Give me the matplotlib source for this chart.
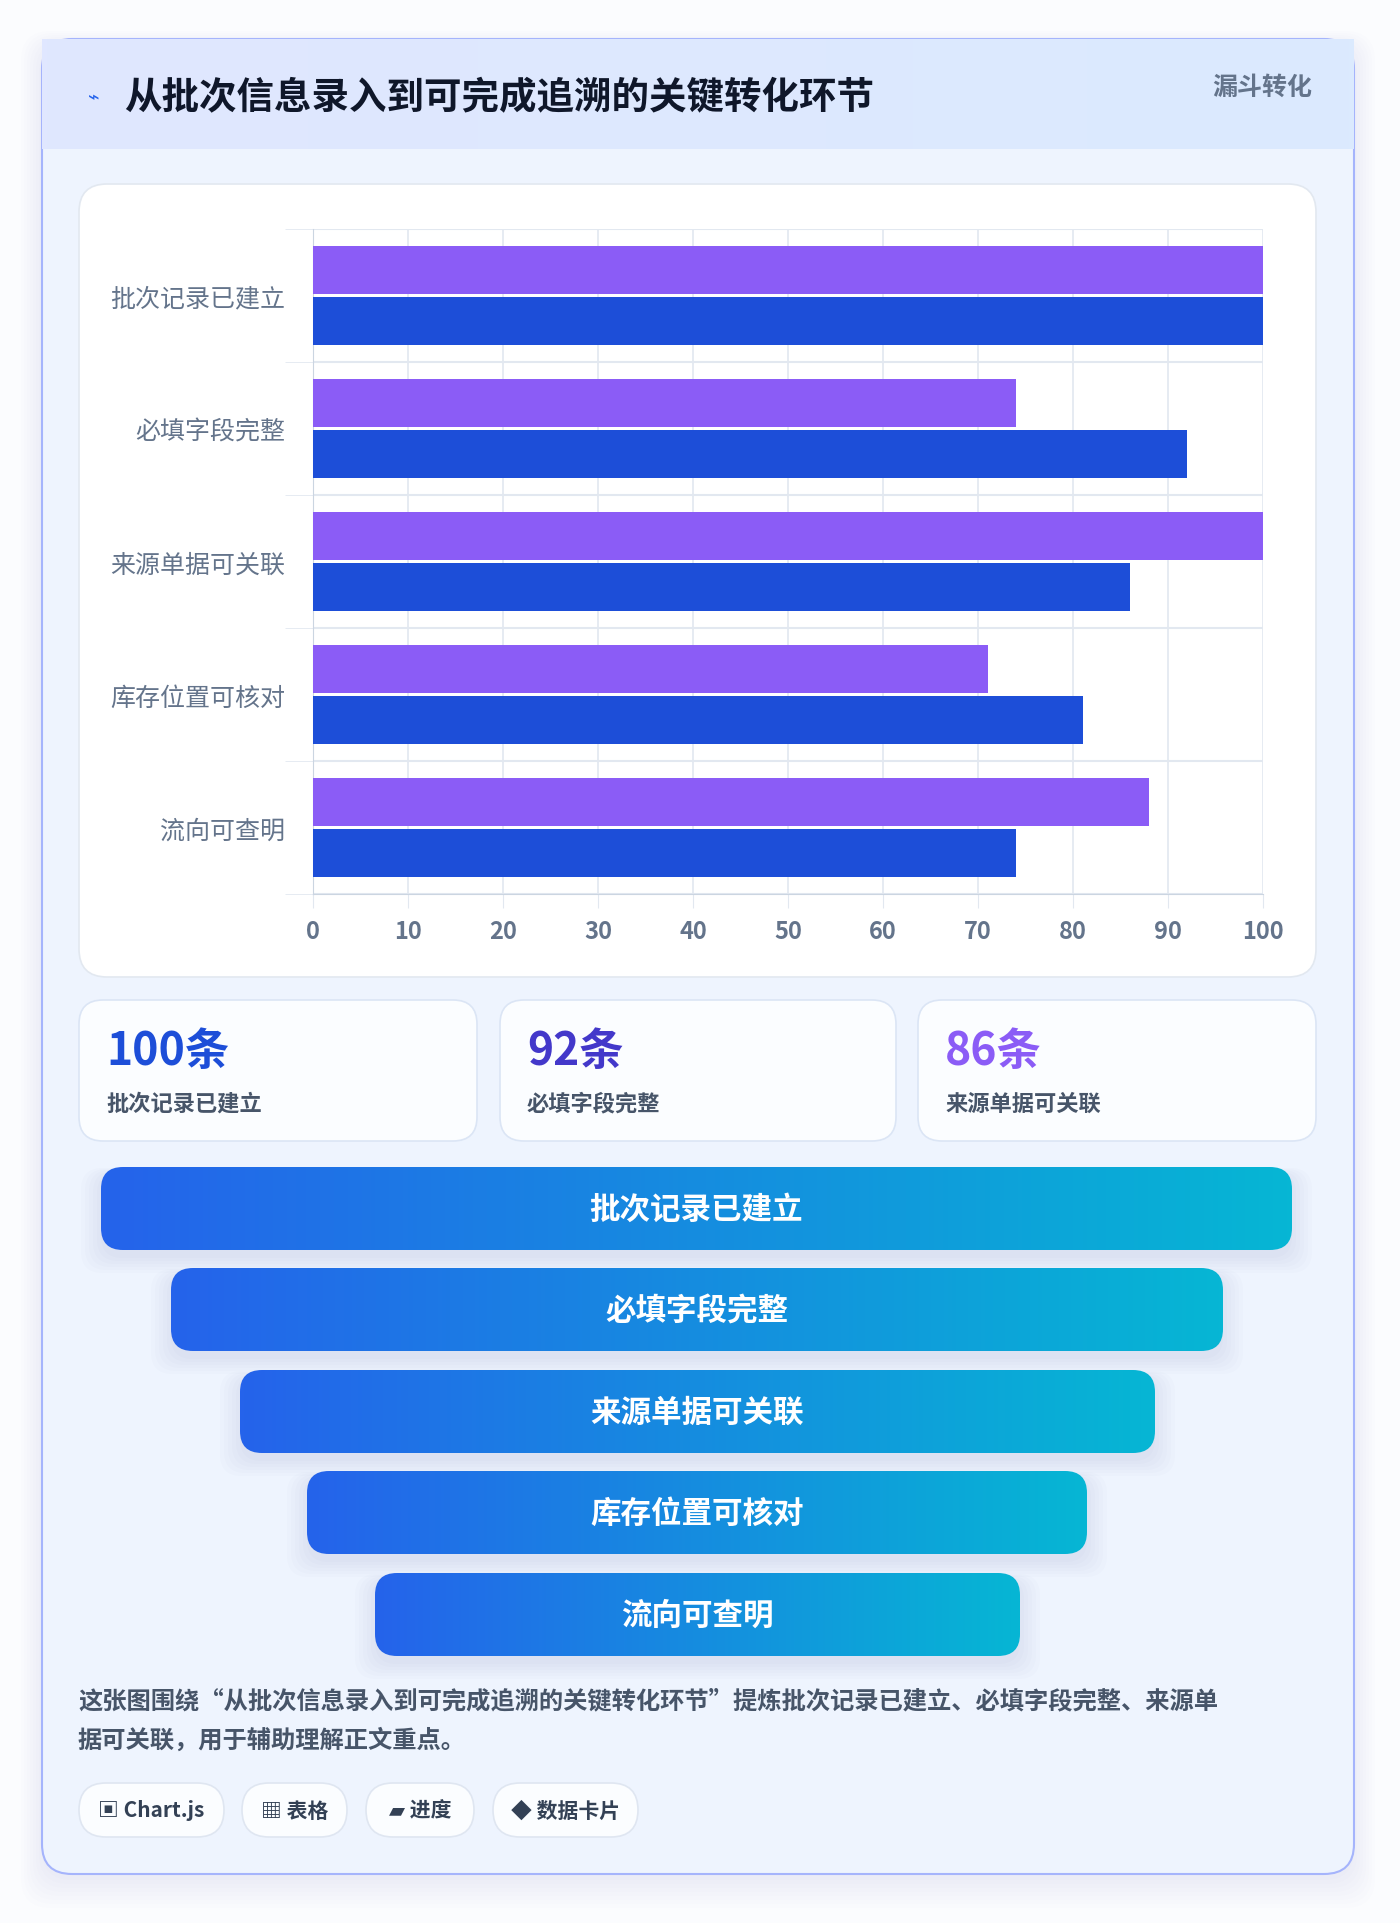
import matplotlib
matplotlib.use("Agg")
import matplotlib.pyplot as plt
import numpy as np
from matplotlib.patches import FancyBboxPatch, Rectangle
from matplotlib.colors import LinearSegmentedColormap

plt.rcParams['font.family'] = ['Noto Sans CJK SC', 'DejaVu Sans']

title = "从批次信息录入到可完成追溯的关键转化环节"
badge = "漏斗转化"
categories = ["批次记录已建立", "必填字段完整", "来源单据可关联", "库存位置可核对", "流向可查明"]
series_purple = [100, 74, 100, 71, 88]
series_blue = [100, 92, 86, 81, 74]
x_ticks = [0, 10, 20, 30, 40, 50, 60, 70, 80, 90, 100]
stat_values = ["100条", "92条", "86条"]
stat_labels = ["批次记录已建立", "必填字段完整", "来源单据可关联"]
stat_colors = ["#1d4ed8", "#4338ca", "#8b5cf6"]
note = ["这张图围绕“从批次信息录入到可完成追溯的关键转化环节”提炼批次记录已建立、必填字段完整、来源单",
        "据可关联，用于辅助理解正文重点。"]
pills = ["▣ Chart.js", "▦ 表格", "▰ 进度", "◆ 数据卡片"]

W, H = 1400, 1924
fig = plt.figure(figsize=(W/100, H/100), dpi=100)
fig.patch.set_facecolor("#fbfcfe")
bg = fig.add_axes([0, 0, 1, 1])
bg.set_xlim(0, W); bg.set_ylim(H, 0); bg.axis("off")

def rbox(x0, y0, x1, y1, r, fc, ec="none", lw=1, z=1):
    p = FancyBboxPatch((x0, y0), x1-x0, y1-y0, boxstyle=f"round,pad=0,rounding_size={r}",
                       fc=fc, ec=ec, lw=lw, zorder=z)
    bg.add_patch(p)
    return p

# shadow + card
for i in range(8):
    rbox(42-i*3, 46-i*2, 1354+i*3, 1881+i*4, 30, (0.6, 0.65, 0.75, 0.015), z=0)
rbox(42, 40, 1354, 1875, 30, "#eef4fe", ec="#a5b4fc", lw=1.5, z=1)
# header gradient
hdr = LinearSegmentedColormap.from_list("h", ["#e0e7ff", "#dbeafe"])
im = bg.imshow(np.linspace(0, 1, 256)[None, :], cmap=hdr, extent=(42, 1354, 150, 40), aspect="auto", zorder=2)
im.set_clip_path(rbox(42, 40, 1354, 150, 0, "none", z=2))
bg.text(94, 98, "⌁", color="#2563eb", fontsize=14, ha="center", va="center", zorder=3, family=['DejaVu Sans'])
bg.text(124, 98, title, color="#0f172a", fontsize=27, fontweight="bold", va="center", zorder=3)
bg.text(1312, 88, badge, color="#64748b", fontsize=18, fontweight="bold", ha="right", va="center", zorder=3)

# chart box
rbox(79, 185, 1316, 978, 28, "white", ec="#e2e8f0", lw=1.2, z=2)

# stat cards
cards_x = [(79, 477), (500, 896), (918, 1316)]
for (x0, x1), v, l, c in zip(cards_x, stat_values, stat_labels, stat_colors):
    rbox(x0, 1001, x1, 1142, 24, "#fbfdff", ec="#dbe5f5", lw=1.2, z=2)
    bg.text(x0+27, 1052, v, color=c, fontsize=32, fontweight="bold", va="center", zorder=3)
    bg.text(x0+27, 1104, l, color="#475569", fontsize=16, fontweight="bold", va="center", zorder=3)

# funnel
fun = LinearSegmentedColormap.from_list("f", ["#2563eb", "#06b6d4"])
fx = [(101, 1292), (171, 1223), (240, 1155), (307, 1087), (375, 1020)]
fy0 = [1168, 1269, 1371, 1472, 1574]
for (x0, x1), y0, lab in zip(fx, fy0, categories):
    y1 = y0 + 83
    for i in range(6):
        rbox(x0-i*4, y0+6-i*1, x1+i*4, y1+8+i*3, 22, (0.4, 0.45, 0.6, 0.02), z=2)
    clip = rbox(x0, y0, x1, y1, 22, "none", z=3)
    im = bg.imshow(np.linspace(0, 1, 256)[None, :], cmap=fun, extent=(x0, x1, y1, y0), aspect="auto", zorder=3)
    im.set_clip_path(clip)
    bg.text((x0+x1)/2, (y0+y1)/2, lab, color="white", fontsize=22, fontweight="bold",
            ha="center", va="center", zorder=4)

bg.text(78, 1701, note[0], color="#475569", fontsize=17.5, fontweight="bold", va="center", zorder=3)
bg.text(78, 1741, note[1], color="#475569", fontsize=17.5, fontweight="bold", va="center", zorder=3)

px = [(79, 224), (242, 347), (366, 474), (493, 638)]
for (x0, x1), t in zip(px, pills):
    rbox(x0, 1784, x1, 1838, 27, "#fbfdff", ec="#dfe6f1", lw=1.2, z=2)
    bg.text((x0+x1)/2, 1811, t, color="#334155", fontsize=15, fontweight="bold",
            ha="center", va="center", zorder=3, family=['Noto Sans CJK SC', 'DejaVu Sans'])

# bar chart axes
ax = fig.add_axes([313/W, 1-895/H, (1263-313)/W, (895-230)/H])
ax.set_facecolor("none")
n = len(categories)
y = np.arange(n)
h = 0.36
ax.barh(y - h/2 - 0.01, series_purple, height=h, color="#8b5cf6", zorder=3)
ax.barh(y + h/2 + 0.01, series_blue, height=h, color="#1d4ed8", zorder=3)
ax.set_ylim(n-0.5, -0.5)
ax.set_xlim(0, 100)
ax.set_xticks(x_ticks)
ax.set_yticks(y)
ax.set_yticklabels(categories)
ax.set_yticks(np.arange(-0.5, n, 1), minor=True)
ax.grid(axis="x", color="#e2e8f0", lw=1.2, zorder=0)
ax.grid(axis="y", which="minor", color="#e2e8f0", lw=1.5, zorder=0)
ax.tick_params(axis="y", which="major", length=0, pad=20, labelsize=18, labelcolor="#64748b")
ax.tick_params(axis="y", which="minor", length=20, color="#e2e8f0")
ax.tick_params(axis="x", length=10, color="#e2e8f0", labelsize=17, labelcolor="#64748b", pad=8)
for lbl in ax.get_xticklabels():
    lbl.set_fontweight("bold")
for s in ["top", "right"]:
    ax.spines[s].set_visible(False)
ax.spines["left"].set_color("#cbd5e1")
ax.spines["bottom"].set_color("#cbd5e1")

fig.savefig("out.png", dpi=100, facecolor=fig.get_facecolor())
